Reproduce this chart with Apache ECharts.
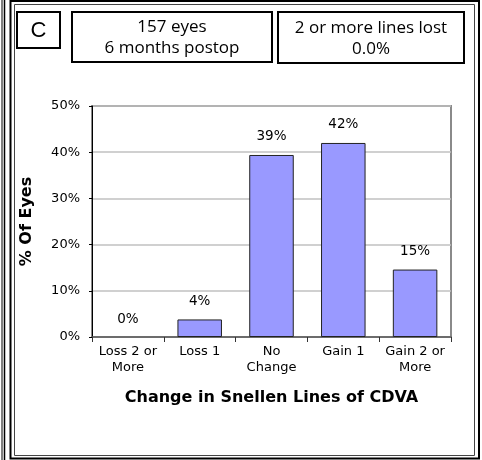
<!DOCTYPE html>
<html>
<head>
<meta charset="utf-8">
<script src="https://cdn.jsdelivr.net/npm/echarts@6/dist/echarts.min.js"></script>
<style>
html, body { margin: 0; padding: 0; background: #fff; }
#chart { width: 482px; height: 460px; }
</style>
</head>
<body>
<div id="chart"></div>
<script>
// change in snellen lines, 157 eyes at 6 months
var categories = ['Loss 2 or\nMore', 'Loss 1', 'No\nChange', 'Gain 1', 'Gain 2 or\nMore'];
var percentEyes = [0, 3.8, 39.4, 42.0, 14.6];
var yTicks = [0, 10, 20, 30, 40, 50];
var panelLetter = 'C';
var infoLeft = ['157 eyes', '6 months postop'];
var infoRight = ['2 or more lines lost', '0.0%'];

var labelFont = 'DejaVu Sans';
var boxFont = '"Open Sans"';

function infoBox(x, y, w, h, lines) {
    return {
        type: 'group',
        children: [
            {
                type: 'rect',
                shape: { x: x, y: y, width: w, height: h },
                style: { fill: '#fff', stroke: '#000', lineWidth: 2 }
            },
            {
                type: 'text',
                x: x + w / 2,
                y: y + h / 2 + 1,
                style: {
                    text: lines.join('\n'),
                    align: 'center',
                    verticalAlign: 'middle',
                    font: '17px ' + boxFont,
                    lineHeight: 21,
                    fill: '#000'
                }
            }
        ]
    };
}

// a zero bar has no outline in the original
var barData = percentEyes.map(function (v) {
    return v === 0 ? { value: v, itemStyle: { borderWidth: 0 } } : v;
});

var myChart = echarts.init(document.getElementById('chart'));

var option = {
    animation: false,
    backgroundColor: '#fff',
    grid: {
        left: 92,
        right: 31,
        top: 106,
        bottom: 123,
        show: true,
        borderColor: '#8a8a8a',
        borderWidth: 2,
        backgroundColor: 'transparent'
    },
    xAxis: {
        type: 'category',
        data: categories,
        name: 'Change in Snellen Lines of CDVA',
        nameLocation: 'middle',
        nameGap: 53,
        nameTextStyle: {
            fontFamily: labelFont,
            fontWeight: 'bold',
            fontSize: 16,
            color: '#000'
        },
        axisLine: { lineStyle: { color: '#555', width: 1.5 } },
        axisTick: { show: true, length: 5, lineStyle: { color: '#333' } },
        axisLabel: {
            interval: 0,
            margin: 7,
            fontFamily: labelFont,
            fontSize: 13,
            lineHeight: 16,
            color: '#000'
        }
    },
    yAxis: {
        type: 'value',
        min: yTicks[0],
        max: yTicks[yTicks.length - 1],
        interval: 10,
        name: '% Of Eyes',
        nameLocation: 'middle',
        nameGap: 57,
        nameTextStyle: {
            fontFamily: labelFont,
            fontWeight: 'bold',
            fontSize: 16,
            color: '#000'
        },
        axisLine: { show: true, lineStyle: { color: '#000', width: 1 } },
        axisTick: { show: true, length: 3, lineStyle: { color: '#000' } },
        splitLine: { lineStyle: { color: '#c0c0c0', width: 1.5 } },
        axisLabel: {
            margin: 12,
            formatter: '{value}%',
            fontFamily: labelFont,
            fontSize: 13,
            color: '#000'
        }
    },
    series: [{
        type: 'bar',
        data: barData,
        barWidth: '62%',
        itemStyle: { color: '#9999ff', borderColor: '#222', borderWidth: 1 },
        label: {
            show: true,
            position: 'top',
            distance: 11,
            formatter: function (p) { return Math.round(p.value) + '%'; },
            fontFamily: labelFont,
            fontSize: 13.5,
            color: '#000'
        }
    }],
    graphic: [
        // edge of the neighbouring panel
        { type: 'line', shape: { x1: 2, y1: 0, x2: 2, y2: 460 }, style: { stroke: '#000', lineWidth: 1 } },
        { type: 'line', shape: { x1: 4.5, y1: 0, x2: 4.5, y2: 460 }, style: { stroke: '#000', lineWidth: 1.5 } },
        // double frame of this panel
        { type: 'rect', shape: { x: 10.5, y: 1, width: 468.5, height: 457.5 }, style: { fill: 'none', stroke: '#000', lineWidth: 2 } },
        { type: 'rect', shape: { x: 14.5, y: 4.5, width: 460, height: 451 }, style: { fill: 'none', stroke: '#444', lineWidth: 1 } },
        // panel letter
        {
            type: 'group',
            children: [
                { type: 'rect', shape: { x: 17, y: 12, width: 43, height: 36 }, style: { fill: '#fff', stroke: '#000', lineWidth: 2 } },
                {
                    type: 'text', x: 38.5, y: 31,
                    style: { text: panelLetter, align: 'center', verticalAlign: 'middle', font: '22px "Liberation Sans"', fill: '#000' }
                }
            ]
        },
        infoBox(72, 12, 200, 50, infoLeft),
        infoBox(278, 12, 186, 51, infoRight)
    ]
};

myChart.setOption(option);
</script>
</body>
</html>
